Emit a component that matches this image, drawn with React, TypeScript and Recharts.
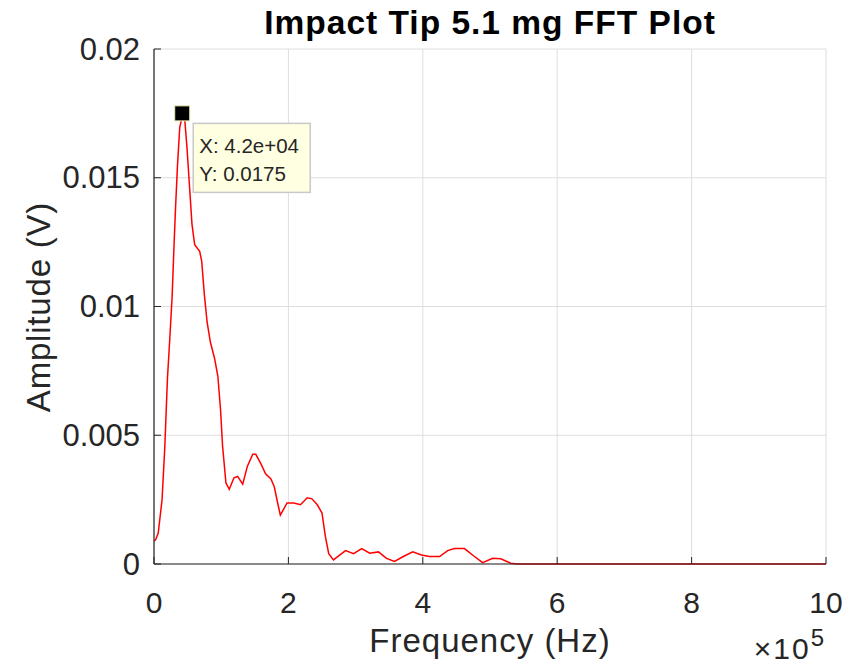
import React from 'react';
import { LineChart, Line, XAxis, YAxis, CartesianGrid, ReferenceDot, Customized } from 'recharts';

const freqE5 = [0, 0.024, 0.063, 0.12, 0.16, 0.2, 0.235, 0.27, 0.294, 0.32, 0.35, 0.383, 0.41, 0.42, 0.457, 0.49, 0.53, 0.565, 0.605, 0.68, 0.71, 0.75, 0.79, 0.84, 0.9, 0.95, 0.99, 1.02, 1.07, 1.12, 1.19, 1.245, 1.32, 1.39, 1.47, 1.515, 1.59, 1.66, 1.74, 1.79, 1.84, 1.88, 1.98, 2.08, 2.18, 2.28, 2.35, 2.43, 2.5, 2.55, 2.6, 2.67, 2.85, 2.97, 3.09, 3.21, 3.34, 3.46, 3.58, 3.71, 3.85, 3.98, 4.1, 4.25, 4.37, 4.47, 4.62, 4.74, 4.89, 5.04, 5.16, 5.31, 5.4, 10];
const amplitude = [0.0009, 0.00094, 0.0012, 0.0025, 0.0045, 0.0072, 0.00875, 0.0104, 0.0121, 0.0138, 0.0155, 0.01695, 0.01728, 0.0175, 0.01728, 0.0162, 0.0146, 0.0132, 0.0124, 0.01214, 0.01175, 0.01044, 0.0094, 0.0086, 0.008, 0.0073, 0.006, 0.0046, 0.00315, 0.0029, 0.00335, 0.0034, 0.0031, 0.0038, 0.00426, 0.00426, 0.0039, 0.0035, 0.0033, 0.003, 0.00237, 0.0019, 0.00237, 0.00237, 0.0023, 0.00257, 0.00253, 0.0023, 0.00198, 0.00107, 0.0004, 0.00016, 0.00052, 0.0004, 0.0006, 0.00042, 0.00047, 0.00022, 0.0001, 0.00029, 0.00047, 0.00035, 0.00029, 0.00029, 0.00052, 0.0006, 0.0006, 0.00035, 0.00005, 0.00022, 0.0002, 0.00003, 0, 0];

const xTicks = [0, 2, 4, 6, 8, 10];
const yTicks = [0, 0.005, 0.01, 0.015, 0.02];
const yTickLabels = ['0', '0.005', '0.01', '0.015', '0.02'];

const peakX = 0.42;
const peakY = 0.0175;
const tipLines = ['X: 4.2e+04', 'Y: 0.0175'];

const TITLE = 'Impact Tip 5.1 mg FFT Plot';
const X_LABEL = 'Frequency (Hz)';
const Y_LABEL = 'Amplitude (V)';

const data = freqE5.map((f, i) => ({ f, a: amplitude[i] }));

const FONT = '"Liberation Sans", Arial, Helvetica, sans-serif';
const AX = '#262626';

const W = 852;
const H = 666;
const PL = 154;
const PR = 826;
const PT = 49;
const PB = 564;

const YTick = (props: any) => {
  const { x, y, payload } = props;
  const ax = x + 14;
  return (
    <g>
      <line x1={ax} x2={ax + 7} y1={y} y2={y} stroke={AX} strokeWidth={1} />
      <text x={x} y={y} textAnchor="end" dominantBaseline="central" fill={AX} fontSize={31} fontFamily={FONT}>
        {yTickLabels[yTicks.indexOf(payload.value)] ?? String(payload.value)}
      </text>
    </g>
  );
};

const XTick = (props: any) => {
  const { x, y, payload } = props;
  const ay = y - 38;
  return (
    <g>
      <line x1={x} x2={x} y1={ay} y2={ay - 7} stroke={AX} strokeWidth={1} />
      <text x={x} y={y} textAnchor="middle" dominantBaseline="central" fill={AX} fontSize={30} fontFamily={FONT}>
        {String(payload.value)}
      </text>
    </g>
  );
};

const Marker = (props: any) => {
  const { cx, cy } = props;
  return <rect x={cx - 7.5} y={cy - 7.5} width={15} height={15} fill="#000" stroke="#e8e8b0" strokeWidth={1} />;
};

const TipBox = (props: any) => {
  const { cx, cy } = props;
  const bx = cx + 11;
  const by = cy + 10;
  return (
    <g>
      <rect x={bx} y={by} width={117} height={69} fill="#ffffe1" stroke="#c9c9c9" strokeWidth={1.5} />
      {tipLines.map((t, i) => (
        <text key={i} x={bx + 6} y={by + 30 + i * 27.5} fill={AX} fontSize={20.5} fontFamily={FONT}>
          {t}
        </text>
      ))}
    </g>
  );
};

const Decor = () => (
  <g>
    <text x={(PL + PR) / 2} y={34} textAnchor="middle" fontSize={33.5} letterSpacing={1} fontWeight="bold" fill="#000" fontFamily={FONT}>
      {TITLE}
    </text>
    <text x={(PL + PR) / 2} y={652} textAnchor="middle" fontSize={33} letterSpacing={1} fill={AX} fontFamily={FONT}>
      {X_LABEL}
    </text>
    <text
      x={50}
      y={307}
      textAnchor="middle"
      fontSize={33}
      letterSpacing={0.8}
      fill={AX}
      fontFamily={FONT}
      transform={`rotate(-90, 50, 307)`}
    >
      {Y_LABEL}
    </text>
    <text x={PR} y={659} textAnchor="end" fontSize={30} letterSpacing={2} fill={AX} fontFamily={FONT}>
      {'\u00d710'}
      <tspan dy={-13} fontSize={24}>5</tspan>
    </text>
  </g>
);

export default function App() {
  return (
    <div style={{ position: 'absolute', left: 0, top: 0, width: W, height: H, background: '#fff' }}>
      <LineChart
        width={W}
        height={H}
        data={data}
        margin={{ top: PT, right: W - PR, bottom: H - PB - 60, left: PL - 100 }}
      >
        <CartesianGrid stroke="#dedede" strokeWidth={1} />
        <XAxis
          dataKey="f"
          type="number"
          domain={[0, 10]}
          ticks={xTicks}
          height={60}
          tickSize={0}
          tickMargin={38}
          tick={<XTick />}
          stroke={AX}
          strokeWidth={1.2}
          interval={0}
        />
        <YAxis
          type="number"
          domain={[0, 0.02]}
          ticks={yTicks}
          width={100}
          tickSize={0}
          tickMargin={14}
          tick={<YTick />}
          stroke={AX}
          strokeWidth={1.2}
          interval={0}
        />
        <Line
          type="linear"
          dataKey="a"
          stroke="#ff0000"
          strokeWidth={1.5}
          dot={false}
          isAnimationActive={false}
        />
        <ReferenceDot x={peakX} y={peakY} shape={<Marker />} />
        <ReferenceDot x={peakX} y={peakY} shape={<TipBox />} />
        <Customized component={<Decor />} />
      </LineChart>
    </div>
  );
}
